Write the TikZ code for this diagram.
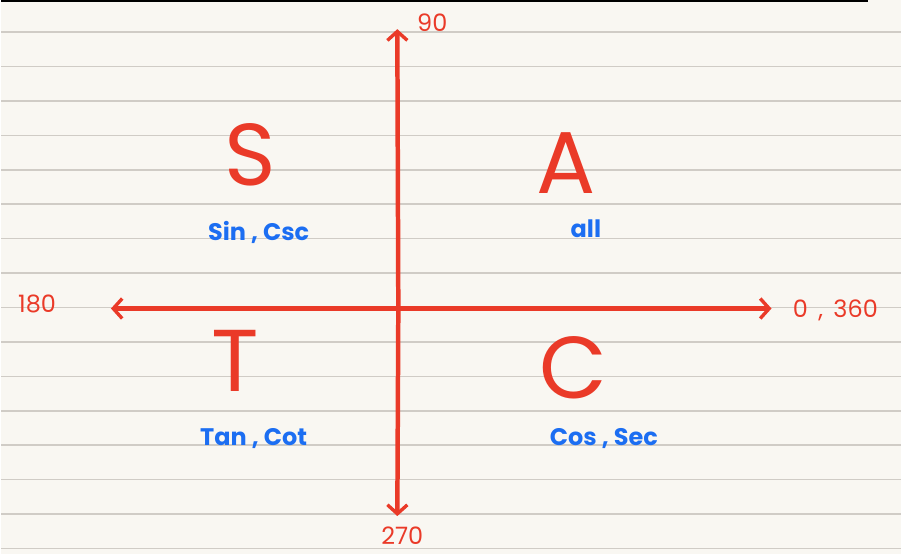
\documentclass[tikz,border=0pt]{standalone}
\usepackage{fontspec}
\setmainfont{Poppins}
\usetikzlibrary{arrows.meta}
\definecolor{paper}{RGB}{249,247,242}
\definecolor{ruleline}{RGB}{208,204,198}
\definecolor{inkred}{RGB}{234,58,40}
\definecolor{inkblue}{RGB}{28,110,242}

\begin{document}
\begin{tikzpicture}[
    x=1pt,y=-1pt,
    axis/.style={draw=inkred,line width=4.5pt,line cap=round,
      -{Straight Barb[length=9pt,width=20pt,line width=3.4pt]}},
    angle/.style={text=inkred,font=\fontsize{24}{26}\selectfont,inner sep=0pt,
      text depth=0pt,anchor=base},
    quad/.style={text=inkred,font=\fontsize{88}{88}\selectfont,inner sep=0pt,
      text depth=0pt,anchor=base},
    funcs/.style={text=inkblue,font=\fontsize{24}{26}\selectfont\bfseries,inner sep=0pt,
      text depth=0pt,anchor=base}
  ]
    % paper
    \fill[paper] (0,0) rectangle (902,555);
    \foreach \k in {0,...,15}
      \draw[ruleline,line width=1.6pt] (0,{32+34.5*\k}) -- (902,{32+34.5*\k});
    \draw[black,line width=2.4pt] (0,1) -- (869,1);

    % axes
    \coordinate (origin) at (398,309);
    \coordinate (up) at (397,29);
    \coordinate (down) at (397,517);
    \coordinate (left) at (110,309);
    \coordinate (right) at (772,309);
    \draw[axis] (origin) -- (up);
    \draw[axis] (origin) -- (down);
    \draw[axis] (origin) -- (left);
    \draw[axis] (origin) -- (right);

    \node[angle] (deg90) at (432,31) {90};
    \node[angle] (deg180) at (36,313) {180};
    \node[angle] (deg0) at (836,318) {0\, ,\, 360};
    \node[angle] (deg270) at (402,545) {270};

    % quadrants
    \node[quad] (sLetter) at (250,186) {S};
    \node[funcs] (sFuncs) at (258,241) {Sin , Csc};
    \node[quad] (aLetter) at (566,194) {A};
    \node[funcs] (aFuncs) at (586,238) {all};
    \node[quad] (tLetter) at (235,392) {T};
    \node[funcs] (tFuncs) at (253,446) {Tan , Cot};
    \node[quad] (cLetter) at (573,399) {C};
    \node[funcs] (cFuncs) at (604,446) {Cos , Sec};
\end{tikzpicture}
\end{document}
